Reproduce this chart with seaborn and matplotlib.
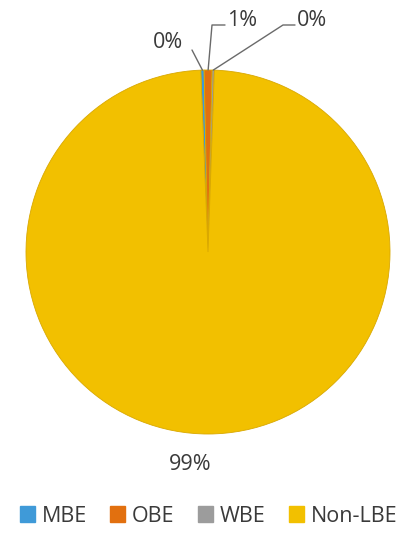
import numpy as np
import matplotlib
matplotlib.use("Agg")
import matplotlib.pyplot as plt
import matplotlib.patches as mpatches
import seaborn as sns

sns.set_theme(style="white")
plt.rcParams['font.family'] = ['Open Sans', 'DejaVu Sans']

categories = ["MBE", "OBE", "WBE", "Non-LBE"]
shares = [0.3, 0.7, 0.2, 98.8]
labels = ["0%", "1%", "0%", "99%"]
colors = ["#3f9ad8", "#e2700f", "#9c9c9c", "#f2c000"]

fig = plt.figure(figsize=(4.17, 5.38), dpi=100)
# pie center ~ (208, 252) px, radius ~182 px
R = 182
ax = fig.add_axes([(208 - R) / 417, (538 - 252 - R) / 538, 2 * R / 417, 2 * R / 538])

wedges, _ = ax.pie(shares, colors=colors, startangle=92.3, counterclock=False,
                   radius=1.0,
                   wedgeprops=dict(edgecolor="#d9a800", linewidth=0.6))
ax.set_aspect("equal")
ax.set_xlim(-1.0, 1.0)
ax.set_ylim(-1.0, 1.0)
ax.axis("off")

txt = "#3a3a3a"
line = "#6a6a6a"
fs = 15.5

def edge_point(w, r=1.0):
    mid = np.radians((w.theta1 + w.theta2) / 2)
    return r * np.cos(mid), r * np.sin(mid)

px_ = 1 / R
# clockwise from top: MBE (left "0%"), OBE ("1%"), WBE (right "0%")
for i, w in enumerate(wedges):
    px, py = edge_point(w)
    if i == 2:
        kx, ky = (283 - 208) * px_, (252 - 25) * px_
        ax.plot([px, kx, kx + 12 * px_], [py, ky, ky], color=line, lw=1.0,
                clip_on=False)
        ax.text(kx + 14 * px_, ky + 4 * px_, labels[i], ha="left",
                va="center", fontsize=fs, color=txt, clip_on=False)
    elif i == 1:
        kx, ky = (212 - 208) * px_, (252 - 25) * px_
        ax.plot([px, kx, kx + 13 * px_], [py, ky, ky], color=line, lw=1.0,
                clip_on=False)
        ax.text(kx + 15 * px_, ky + 4 * px_, labels[i], ha="left",
                va="center", fontsize=fs, color=txt, clip_on=False)
    elif i == 0:
        ax.plot([px, (192 - 208) * px_], [py, (252 - 50) * px_], color=line,
                lw=1.0, clip_on=False)
        ax.text((168 - 208) * px_, (252 - 42) * px_, labels[i], ha="center",
                va="center", fontsize=fs, color=txt, clip_on=False)
    else:
        ax.text((190 - 208) * px_, (252 - 465) * px_, labels[i], ha="center",
                va="center", fontsize=fs, color=txt, clip_on=False)

handles = [mpatches.Patch(facecolor=c, edgecolor=c, label=n)
           for c, n in zip(colors, categories)]
fig.legend(handles=handles, loc="center", bbox_to_anchor=(0.5, 1 - 516 / 538),
           ncol=4, frameon=False, fontsize=fs, handlelength=0.7,
           handleheight=0.7, handletextpad=0.3, columnspacing=1.1,
           labelcolor=txt)

fig.savefig("out.png", dpi=100)
